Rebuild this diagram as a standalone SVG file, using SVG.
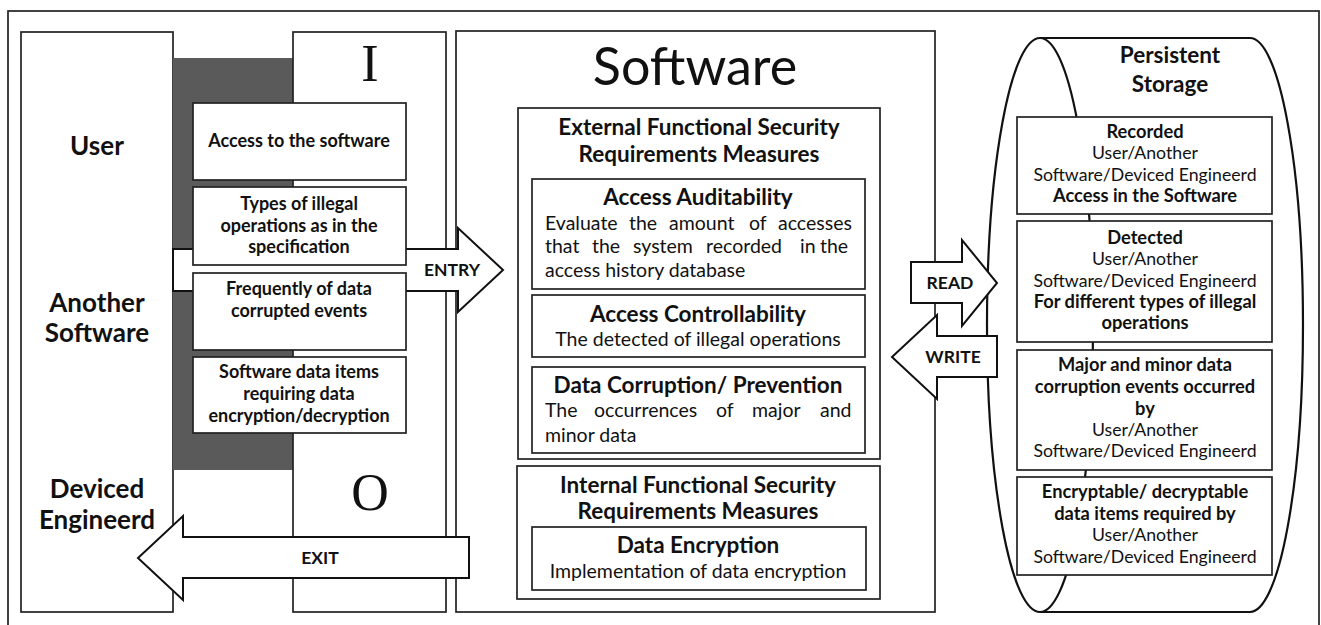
<svg xmlns="http://www.w3.org/2000/svg" width="1321" height="625" viewBox="0 0 1321 625">
<style>
.bx{fill:#fff;stroke:#222;stroke-width:1.7}
.nf{fill:none;stroke:#222;stroke-width:1.7}
.cyl{fill:#fff;stroke:#111;stroke-width:2.2}
.ar{fill:#fff;stroke:#111;stroke-width:2}
text{font-family:Lato,"Liberation Sans",sans-serif;fill:#111}
.c{text-anchor:middle}
.b{font-weight:700}
.lb{font-size:18px}
.st{font-size:18.3px}
.sr{font-size:17.7px}
.body{font-size:19.5px}
.ti{font-size:22.5px}
.ac{font-size:26px}
.cn{font-size:17.5px}
.ser{font-family:"Liberation Serif","Times New Roman",serif}
</style>
<rect x="8" y="11" width="1311" height="700" class="nf"/>

<g id="actors">
<rect x="21" y="32" width="152" height="580" class="bx"/>
<text class="b c ac" x="97" y="155">User</text>
<text class="b c ac" x="97" y="312">Another</text>
<text class="b c ac" x="97" y="342">Software</text>
<text class="b c ac" x="97" y="498">Deviced</text>
<text class="b c ac" x="97" y="529">Engineerd</text>
</g>

<g id="interface">
<rect x="173" y="58" width="120" height="412" fill="#5a5a5a"/>
<rect x="293" y="32" width="153" height="580" class="bx"/>
<text class="ser c" x="370" y="81" font-size="52">I</text>
<text class="ser c" x="370" y="510" font-size="52">O</text>
</g>

<g id="software">
<rect x="456" y="31" width="479" height="581" class="bx"/>
<text class="c" x="695" y="85" font-size="52">Software</text>
</g>

<g id="external">
<rect x="518" y="108" width="362" height="351" class="bx"/>
<text class="b c ti" x="699" y="135">External Functional Security</text>
<text class="b c ti" x="699" y="162">Requirements Measures</text>
</g>
<g id="auditability">
<rect x="532" y="179" width="333" height="110" class="bx"/>
<text class="b c ti" x="698" y="205">Access Auditability</text>
<text class="body" y="230"><tspan x="545">Evaluate</tspan><tspan x="629">the</tspan><tspan x="669">amount</tspan><tspan x="749">of</tspan><tspan x="778">accesses</tspan></text>
<text class="body" y="253"><tspan x="545">that</tspan><tspan x="592">the</tspan><tspan x="633">system</tspan><tspan x="706">recorded</tspan><tspan x="800">in</tspan><tspan x="820">the</tspan></text>
<text class="body" x="545" y="277">access history database</text>
</g>
<g id="controllability">
<rect x="532" y="295" width="333" height="62" class="bx"/>
<text class="b c ti" x="698" y="322">Access Controllability</text>
<text class="c body" x="698" y="346">The detected of illegal operations</text>
</g>
<g id="corruption">
<rect x="532" y="367" width="333" height="86" class="bx"/>
<text class="b c ti" x="698" y="393">Data Corruption/ Prevention</text>
<text class="body" y="417"><tspan x="545">The</tspan><tspan x="594">occurrences</tspan><tspan x="716">of</tspan><tspan x="752">major</tspan><tspan x="820">and</tspan></text>
<text class="body" x="545" y="442">minor data</text>
</g>
<g id="internal">
<rect x="517" y="466" width="363" height="133" class="bx"/>
<text class="b c ti" x="698" y="493">Internal Functional Security</text>
<text class="b c ti" x="698" y="519">Requirements Measures</text>
</g>
<g id="encryption">
<rect x="532" y="527" width="334" height="63" class="bx"/>
<text class="b c ti" x="698" y="553">Data Encryption</text>
<text class="c body" x="698" y="578">Implementation of data encryption</text>
</g>

<g id="storage">
<path class="cyl" d="M1040,38 L1250,38 A53,287 0 0 1 1250,612 L1040,612"/>
<ellipse class="cyl" cx="1040" cy="325" rx="53" ry="287"/>
<text class="b c ti" x="1170" y="63">Persistent</text>
<text class="b c ti" x="1170" y="92">Storage</text>
</g>
<g id="st-recorded">
<rect x="1017" y="117" width="255" height="97" class="bx"/>
<text class="b c st" x="1145" y="138">Recorded</text>
<text class="c sr" x="1145" y="159">User/Another</text>
<text class="c sr" x="1145" y="181">Software/Deviced Engineerd</text>
<text class="b c st" x="1145" y="202">Access in the Software</text>
</g>
<g id="st-detected">
<rect x="1017" y="221" width="255" height="121" class="bx"/>
<text class="b c st" x="1145" y="244">Detected</text>
<text class="c sr" x="1145" y="265">User/Another</text>
<text class="c sr" x="1145" y="287">Software/Deviced Engineerd</text>
<text class="b c st" x="1145" y="308">For different types of illegal</text>
<text class="b c st" x="1145" y="329">operations</text>
</g>
<g id="st-corruption">
<rect x="1017" y="350" width="255" height="120" class="bx"/>
<text class="b c st" x="1145" y="371">Major and minor data</text>
<text class="b c st" x="1145" y="393">corruption events occurred</text>
<text class="b c st" x="1145" y="415">by</text>
<text class="c sr" x="1145" y="436">User/Another</text>
<text class="c sr" x="1145" y="457">Software/Deviced Engineerd</text>
</g>
<g id="st-encryptable">
<rect x="1017" y="477" width="255" height="98" class="bx"/>
<text class="b c st" x="1145" y="498">Encryptable/ decryptable</text>
<text class="b c st" x="1145" y="520">data items required by</text>
<text class="c sr" x="1145" y="541">User/Another</text>
<text class="c sr" x="1145" y="563">Software/Deviced Engineerd</text>
</g>

<g id="connectors">
<polygon class="ar" points="173,249 458,249 458,228 503,270 458,312 458,291 173,291"/>
<text class="b c cn" x="452" y="276">ENTRY</text>
<polygon class="ar" points="469,537 183,537 183,516 138,558 183,600 183,578 469,578"/>
<text class="b c cn" x="320" y="564">EXIT</text>
<polygon class="ar" points="911,262 962,262 962,240 997,283 962,326 962,303 911,303"/>
<text class="b c cn" x="950" y="289">READ</text>
<polygon class="ar" points="997,336 937,336 937,315 892,357 937,399 937,377 997,377"/>
<text class="b c cn" x="953" y="363">WRITE</text>
</g>

<g id="in-access">
<rect x="193" y="103" width="213" height="77" class="bx"/>
<text class="b c lb" x="299" y="147">Access to the software</text>
</g>
<g id="in-types">
<rect x="193" y="187" width="213" height="78" class="bx"/>
<text class="b c lb" x="299" y="210">Types of illegal</text>
<text class="b c lb" x="299" y="232">operations as in the</text>
<text class="b c lb" x="299" y="253">specification</text>
</g>
<g id="in-frequently">
<rect x="193" y="273" width="213" height="77" class="bx"/>
<text class="b c lb" x="299" y="295">Frequently of data</text>
<text class="b c lb" x="299" y="317">corrupted events</text>
</g>
<g id="in-items">
<rect x="193" y="357" width="213" height="76" class="bx"/>
<text class="b c lb" x="299" y="378">Software data items</text>
<text class="b c lb" x="299" y="400">requiring data</text>
<text class="b c lb" x="299" y="422">encryption/decryption</text>
</g>
</svg>
